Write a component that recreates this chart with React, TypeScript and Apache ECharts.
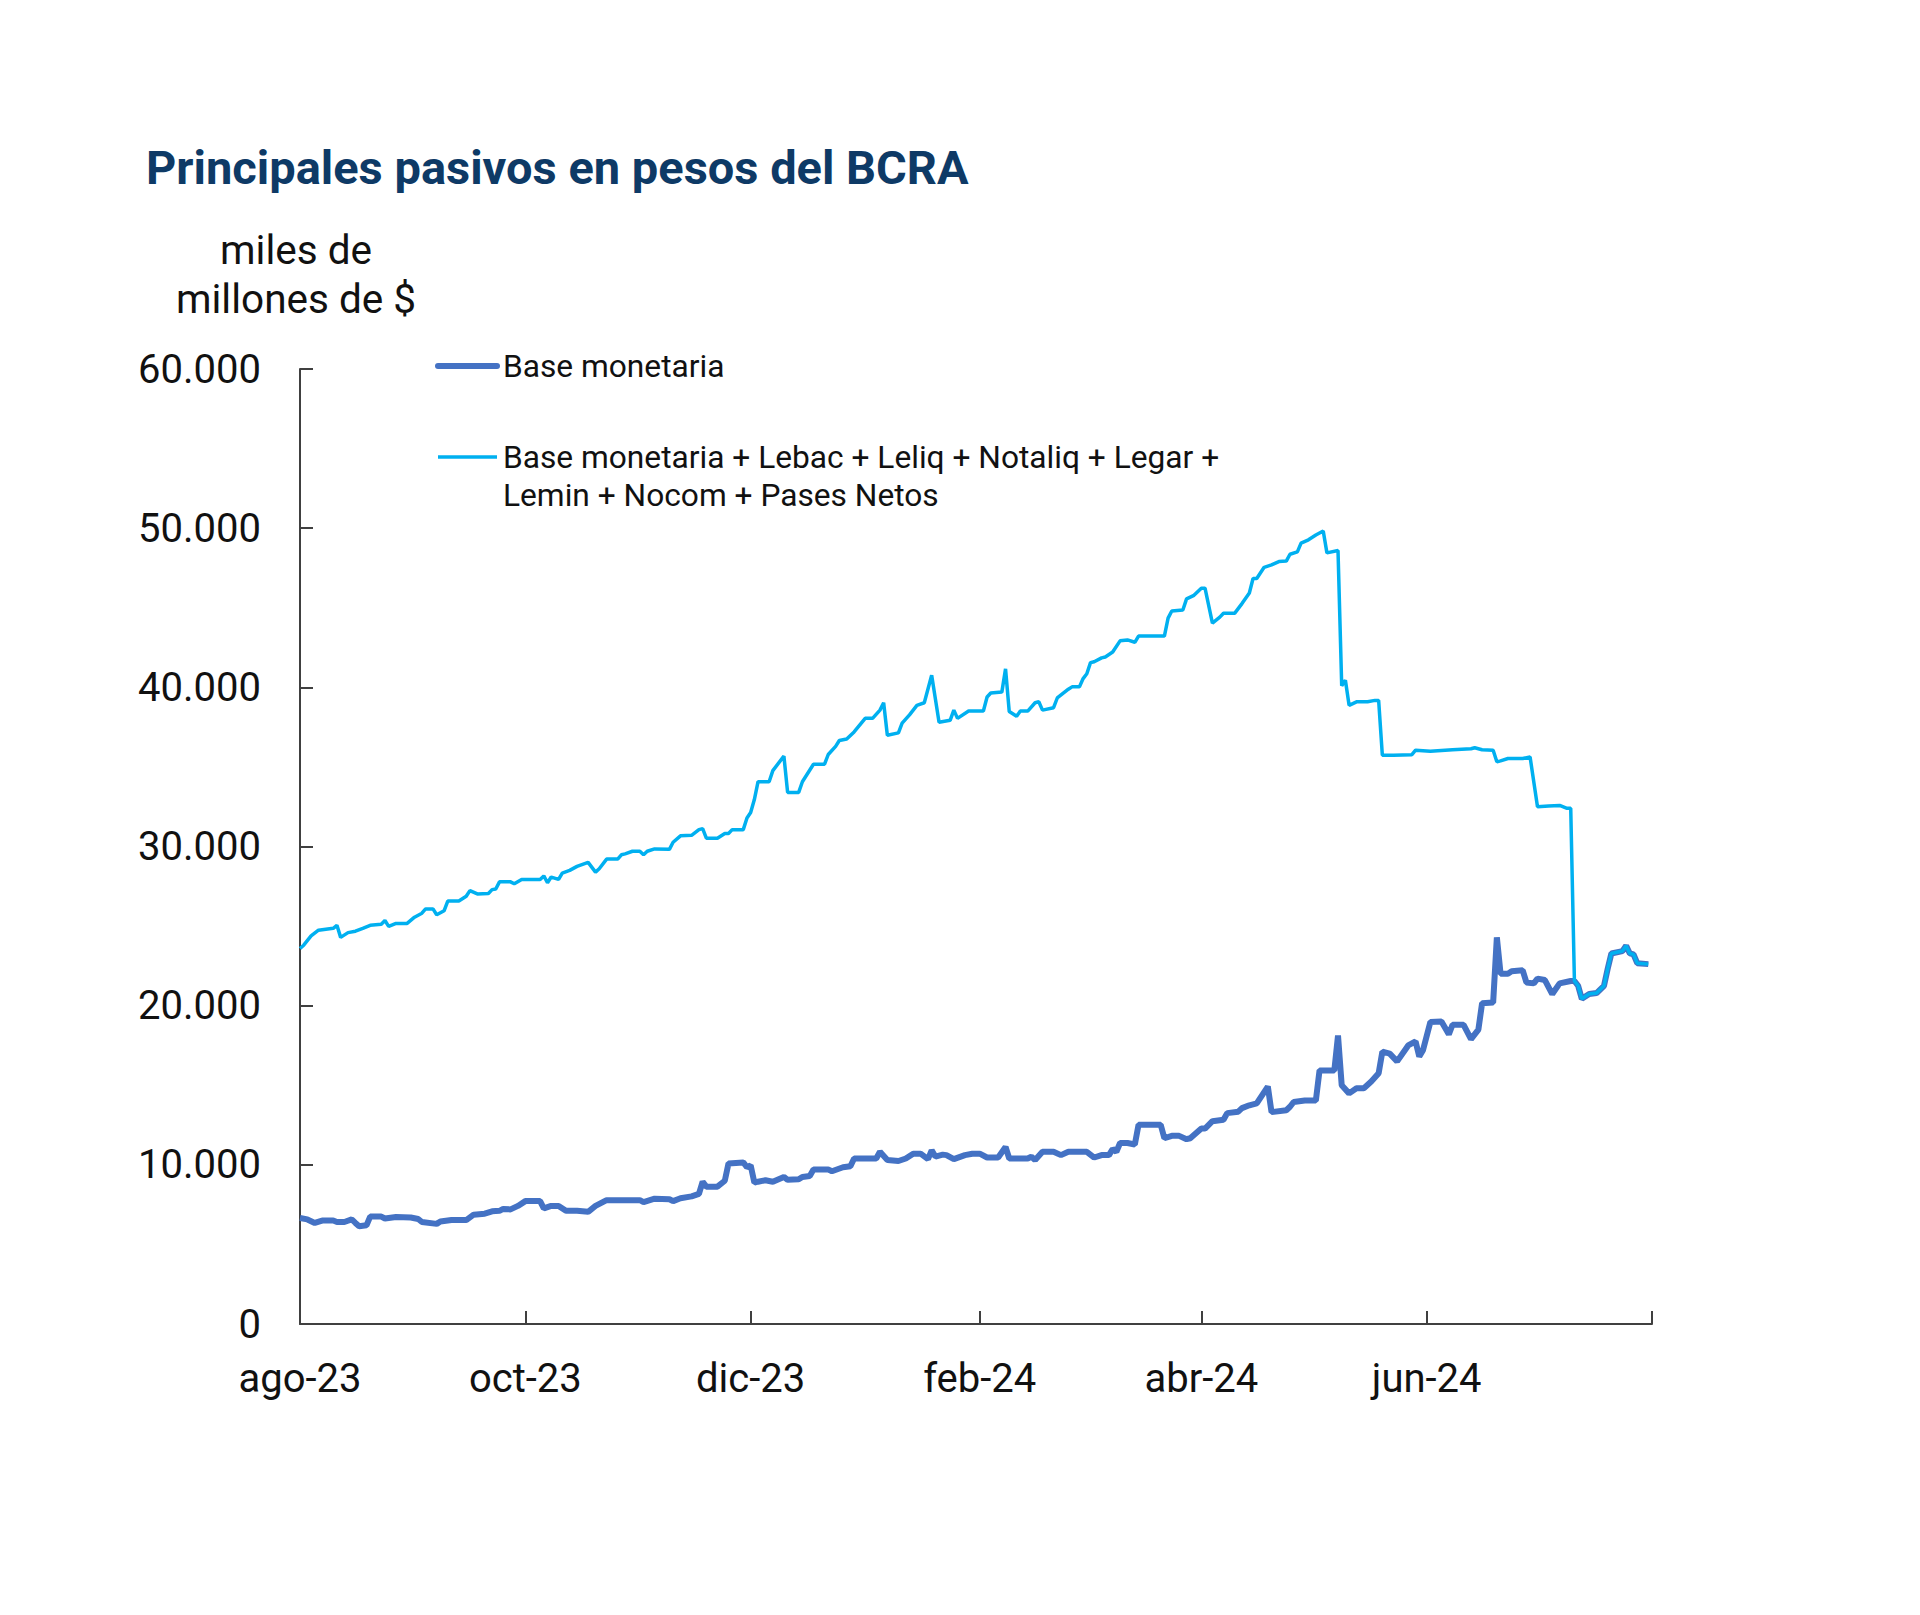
import React, { useEffect, useRef } from "react";
import * as echarts from "echarts";

const TITLE = "Principales pasivos en pesos del BCRA";
const Y_AXIS_NAME = "miles de\nmillones de $";
const NAME_BASE = "Base monetaria";
const NAME_AMPLIA = "Base monetaria + Lebac + Leliq + Notaliq + Legar +\nLemin + Nocom + Pases Netos";

const X_MIN = "2023-08-01";
const X_MAX = "2024-08-01";
const X_TICK_DATES = ["2023-08-01", "2023-10-01", "2023-12-01", "2024-02-01", "2024-04-01", "2024-06-01", "2024-08-01"];
const X_LABEL_DATES = ["2023-08-01", "2023-10-01", "2023-12-01", "2024-02-01", "2024-04-01", "2024-06-01"];
const X_LABELS = ["ago-23", "oct-23", "dic-23", "feb-24", "abr-24", "jun-24"];
const Y_TICKS = [0, 10000, 20000, 30000, 40000, 50000, 60000];

// Base monetaria
const baseDates = [
  "2023-08-01", "2023-08-03", "2023-08-05", "2023-08-07", "2023-08-10", "2023-08-11", "2023-08-13", "2023-08-15",
  "2023-08-16", "2023-08-17", "2023-08-19", "2023-08-20", "2023-08-23", "2023-08-24", "2023-08-27", "2023-08-31",
  "2023-09-02", "2023-09-03", "2023-09-07", "2023-09-08", "2023-09-11", "2023-09-15", "2023-09-17", "2023-09-20",
  "2023-09-22", "2023-09-24", "2023-09-25", "2023-09-27", "2023-09-29", "2023-10-01", "2023-10-05", "2023-10-06",
  "2023-10-08", "2023-10-10", "2023-10-12", "2023-10-15", "2023-10-18", "2023-10-20", "2023-10-23", "2023-11-01",
  "2023-11-02", "2023-11-05", "2023-11-09", "2023-11-10", "2023-11-12", "2023-11-15", "2023-11-17", "2023-11-18",
  "2023-11-19", "2023-11-22", "2023-11-24", "2023-11-25", "2023-11-29", "2023-11-30", "2023-12-01", "2023-12-02",
  "2023-12-03", "2023-12-05", "2023-12-07", "2023-12-10", "2023-12-11", "2023-12-14", "2023-12-15", "2023-12-17",
  "2023-12-18", "2023-12-22", "2023-12-23", "2023-12-26", "2023-12-28", "2023-12-29", "2024-01-04", "2024-01-05",
  "2024-01-07", "2024-01-10", "2024-01-12", "2024-01-14", "2024-01-16", "2024-01-18", "2024-01-19", "2024-01-20",
  "2024-01-22", "2024-01-23", "2024-01-25", "2024-01-28", "2024-01-30", "2024-02-01", "2024-02-03", "2024-02-06",
  "2024-02-08", "2024-02-09", "2024-02-14", "2024-02-15", "2024-02-16", "2024-02-18", "2024-02-21", "2024-02-23",
  "2024-02-25", "2024-03-01", "2024-03-03", "2024-03-05", "2024-03-07", "2024-03-08", "2024-03-09", "2024-03-10",
  "2024-03-12", "2024-03-14", "2024-03-15", "2024-03-21", "2024-03-22", "2024-03-24", "2024-03-26", "2024-03-28",
  "2024-03-29", "2024-04-01", "2024-04-02", "2024-04-04", "2024-04-07", "2024-04-08", "2024-04-11", "2024-04-12",
  "2024-04-14", "2024-04-16", "2024-04-19", "2024-04-20", "2024-04-24", "2024-04-25", "2024-04-26", "2024-04-29",
  "2024-05-02", "2024-05-03", "2024-05-07", "2024-05-08", "2024-05-09", "2024-05-11", "2024-05-13", "2024-05-15",
  "2024-05-17", "2024-05-19", "2024-05-20", "2024-05-22", "2024-05-24", "2024-05-27", "2024-05-29", "2024-05-30",
  "2024-05-31", "2024-06-02", "2024-06-05", "2024-06-07", "2024-06-08", "2024-06-11", "2024-06-13", "2024-06-15",
  "2024-06-16", "2024-06-19", "2024-06-20", "2024-06-21", "2024-06-23", "2024-06-24", "2024-06-27", "2024-06-28",
  "2024-06-30", "2024-07-01", "2024-07-03", "2024-07-05", "2024-07-07", "2024-07-10", "2024-07-11", "2024-07-12",
  "2024-07-13", "2024-07-15", "2024-07-17", "2024-07-19", "2024-07-20", "2024-07-21", "2024-07-24", "2024-07-25",
  "2024-07-26", "2024-07-27", "2024-07-28", "2024-07-31"
];
const baseValues = [
  6660, 6570, 6350, 6500, 6500, 6410, 6410, 6570,
  6350, 6140, 6200, 6750, 6750, 6630, 6720, 6690,
  6600, 6410, 6290, 6440, 6530, 6530, 6870, 6930,
  7080, 7110, 7230, 7200, 7420, 7720, 7720, 7260,
  7420, 7420, 7110, 7110, 7050, 7420, 7780, 7780,
  7660, 7870, 7840, 7720, 7900, 8020, 8180, 8940,
  8630, 8630, 9000, 10090, 10150, 9850, 9970, 8880,
  8940, 9030, 8940, 9240, 9060, 9090, 9240, 9300,
  9700, 9700, 9600, 9850, 9910, 10400, 10400, 10820,
  10300, 10240, 10400, 10700, 10700, 10360, 10910, 10520,
  10640, 10610, 10360, 10610, 10700, 10700, 10460, 10460,
  11120, 10400, 10400, 10520, 10300, 10820, 10820, 10610,
  10820, 10820, 10460, 10610, 10610, 11000, 10820, 11370,
  11370, 11280, 12520, 12520, 11670, 11820, 11820, 11610,
  11670, 12280, 12280, 12740, 12830, 13250, 13340, 13560,
  13740, 13860, 14920, 13310, 13430, 13650, 13950, 14040,
  14040, 15930, 15930, 18120, 15000, 14490, 14810, 14810,
  15230, 15750, 17110, 16990, 16500, 17500, 17750, 16800,
  17200, 18970, 19000, 18200, 18800, 18800, 17900, 18500,
  20150, 20200, 24290, 22010, 22010, 22160, 22220, 21460,
  21400, 21700, 21610, 20730, 21400, 21550, 21550, 21250,
  20430, 20730, 20790, 21250, 22310, 23280, 23430, 23770,
  23280, 23220, 22670, 22610
];

// Base monetaria + Lebac + Leliq + Notaliq + Legar + Lemin + Nocom + Pases Netos
const ampliaDates = [
  "2023-08-01", "2023-08-02", "2023-08-04", "2023-08-06", "2023-08-10", "2023-08-11", "2023-08-12", "2023-08-14",
  "2023-08-16", "2023-08-18", "2023-08-20", "2023-08-23", "2023-08-24", "2023-08-25", "2023-08-27", "2023-08-30",
  "2023-09-01", "2023-09-03", "2023-09-04", "2023-09-06", "2023-09-07", "2023-09-09", "2023-09-10", "2023-09-13",
  "2023-09-15", "2023-09-16", "2023-09-18", "2023-09-21", "2023-09-22", "2023-09-23", "2023-09-24", "2023-09-27",
  "2023-09-28", "2023-09-30", "2023-10-05", "2023-10-06", "2023-10-07", "2023-10-08", "2023-10-10", "2023-10-11",
  "2023-10-13", "2023-10-15", "2023-10-18", "2023-10-20", "2023-10-21", "2023-10-23", "2023-10-26", "2023-10-27",
  "2023-10-28", "2023-10-30", "2023-11-01", "2023-11-02", "2023-11-03", "2023-11-05", "2023-11-09", "2023-11-10",
  "2023-11-12", "2023-11-15", "2023-11-17", "2023-11-18", "2023-11-19", "2023-11-22", "2023-11-24", "2023-11-25",
  "2023-11-26", "2023-11-29", "2023-11-30", "2023-12-01", "2023-12-02", "2023-12-03", "2023-12-06", "2023-12-07",
  "2023-12-10", "2023-12-11", "2023-12-14", "2023-12-15", "2023-12-18", "2023-12-21", "2023-12-22", "2023-12-24",
  "2023-12-25", "2023-12-27", "2023-12-29", "2024-01-01", "2024-01-03", "2024-01-05", "2024-01-06", "2024-01-07",
  "2024-01-10", "2024-01-11", "2024-01-13", "2024-01-15", "2024-01-17", "2024-01-19", "2024-01-21", "2024-01-24",
  "2024-01-25", "2024-01-26", "2024-01-29", "2024-02-02", "2024-02-03", "2024-02-04", "2024-02-07", "2024-02-08",
  "2024-02-09", "2024-02-11", "2024-02-12", "2024-02-14", "2024-02-16", "2024-02-17", "2024-02-18", "2024-02-21",
  "2024-02-22", "2024-02-25", "2024-02-26", "2024-02-28", "2024-02-29", "2024-03-01", "2024-03-02", "2024-03-03",
  "2024-03-05", "2024-03-06", "2024-03-08", "2024-03-10", "2024-03-12", "2024-03-14", "2024-03-15", "2024-03-22",
  "2024-03-23", "2024-03-24", "2024-03-27", "2024-03-28", "2024-03-30", "2024-04-01", "2024-04-02", "2024-04-04",
  "2024-04-06", "2024-04-07", "2024-04-10", "2024-04-12", "2024-04-14", "2024-04-15", "2024-04-16", "2024-04-18",
  "2024-04-20", "2024-04-22", "2024-04-24", "2024-04-25", "2024-04-27", "2024-04-28", "2024-04-30", "2024-05-02",
  "2024-05-04", "2024-05-05", "2024-05-08", "2024-05-09", "2024-05-10", "2024-05-11", "2024-05-13", "2024-05-16",
  "2024-05-18", "2024-05-19", "2024-05-20", "2024-05-23", "2024-05-28", "2024-05-29", "2024-06-02", "2024-06-08",
  "2024-06-13", "2024-06-14", "2024-06-16", "2024-06-19", "2024-06-20", "2024-06-21", "2024-06-23", "2024-06-27",
  "2024-06-29", "2024-07-01", "2024-07-04", "2024-07-07", "2024-07-09", "2024-07-10", "2024-07-11", "2024-07-12",
  "2024-07-13", "2024-07-15", "2024-07-17", "2024-07-19", "2024-07-20", "2024-07-21", "2024-07-24", "2024-07-25",
  "2024-07-26", "2024-07-27", "2024-07-28", "2024-07-31"
];
const ampliaValues = [
  23590, 23800, 24380, 24740, 24860, 25050, 24290, 24590,
  24680, 24860, 25050, 25110, 25350, 24980, 25170, 25170,
  25560, 25810, 26080, 26080, 25710, 25960, 26570, 26570,
  26870, 27230, 27020, 27050, 27290, 27330, 27780, 27780,
  27660, 27930, 27930, 28150, 27720, 28080, 27930, 28330,
  28500, 28750, 29000, 28390, 28600, 29210, 29210, 29480,
  29540, 29700, 29700, 29480, 29700, 29850, 29820, 30270,
  30670, 30700, 31060, 31120, 30520, 30520, 30820, 30820,
  31060, 31060, 31790, 32130, 32950, 34070, 34070, 34770,
  35680, 33400, 33400, 34070, 35170, 35170, 35780, 36290,
  36660, 36750, 37200, 38050, 38050, 38570, 39030, 36990,
  37140, 37750, 38270, 38870, 39030, 40760, 37810, 37930,
  38570, 38050, 38510, 38510, 39390, 39640, 39700, 41160,
  38480, 38180, 38510, 38510, 39030, 39090, 38570, 38720,
  39330, 39880, 40030, 40030, 40550, 40850, 41550, 41610,
  41850, 41910, 42220, 42920, 42980, 42830, 43220, 43220,
  44350, 44800, 44860, 45560, 45780, 46230, 46230, 44040,
  44410, 44650, 44650, 45260, 45930, 46840, 46840, 47540,
  47690, 47900, 47930, 48360, 48510, 49060, 49270, 49570,
  49820, 48450, 48600, 40100, 40450, 38870, 39090, 39090,
  39180, 39180, 35740, 35740, 35770, 36050, 35990, 36080,
  36140, 36200, 36080, 36050, 35320, 35380, 35530, 35530,
  35620, 32490, 32550, 32580, 32400, 32400, 21550, 21250,
  20430, 20730, 20790, 21250, 22310, 23280, 23430, 23770,
  23280, 23220, 22670, 22610
];

const COLOR_BASE = "#4472C4";
const COLOR_AMPLIA = "#00B0F0";
const AXIS_COLOR = "#404040";
const TEXT_COLOR = "#111111";
const FONT = "Roboto";

function toStamp(d: string): number {
  return Date.parse(d + "T00:00:00Z");
}

function fmtThousands(v: number): string {
  return String(v).replace(/\B(?=(\d{3})+(?!\d))/g, ".");
}

export default function App() {
  const ref = useRef<HTMLDivElement>(null);

  useEffect(() => {
    document.body.style.margin = "0";
    if (!ref.current) return;
    const chart = echarts.init(ref.current, undefined, { renderer: "svg" });

    const tickStamps = X_TICK_DATES.map(toStamp);
    const labelStamps = X_LABEL_DATES.map(toStamp);

    const option: any = {
      animation: false,
      backgroundColor: "#ffffff",
      title: {
        text: TITLE,
        left: 141,
        top: 139,
        textStyle: { fontFamily: FONT, fontWeight: "bold", fontSize: 47, color: "#0E3A66" },
      },
      grid: { left: 300, top: 369, width: 1352, height: 955, containLabel: false },
      xAxis: {
        type: "value",
        min: toStamp(X_MIN),
        max: toStamp(X_MAX),
        splitLine: { show: false },
        axisLine: { show: true, lineStyle: { color: AXIS_COLOR, width: 2 } },
        axisTick: {
          show: true,
          inside: true,
          length: 13,
          customValues: tickStamps,
          lineStyle: { color: AXIS_COLOR, width: 2 },
        },
        axisLabel: {
          customValues: labelStamps,
          margin: 34,
          fontFamily: FONT,
          fontSize: 40,
          color: TEXT_COLOR,
          formatter: (value: number) => {
            const i = labelStamps.indexOf(value);
            return i >= 0 ? X_LABELS[i] : "";
          },
        },
      },
      yAxis: {
        type: "value",
        min: Y_TICKS[0],
        max: Y_TICKS[Y_TICKS.length - 1],
        interval: 10000,
        name: Y_AXIS_NAME,
        nameLocation: "end",
        nameGap: 46,
        nameTextStyle: {
          fontFamily: FONT,
          fontSize: 40.5,
          lineHeight: 49,
          color: TEXT_COLOR,
          align: "center",
          padding: [0, 8, 0, 0],
        },
        splitLine: { show: false },
        axisLine: { show: true, lineStyle: { color: AXIS_COLOR, width: 2 } },
        axisTick: { show: true, inside: true, length: 13, lineStyle: { color: AXIS_COLOR, width: 2 } },
        axisLabel: {
          margin: 39,
          fontFamily: FONT,
          fontSize: 40,
          color: TEXT_COLOR,
          formatter: (v: number) => fmtThousands(v),
        },
      },
      series: [
        {
          name: NAME_BASE,
          type: "line",
          data: baseDates.map((d, i) => [toStamp(d), baseValues[i]]),
          showSymbol: false,
          symbol: "none",
          lineStyle: { color: COLOR_BASE, width: 6 },
          itemStyle: { color: COLOR_BASE },
          emphasis: { disabled: true },
          z: 2,
        },
        {
          name: NAME_AMPLIA,
          type: "line",
          data: ampliaDates.map((d, i) => [toStamp(d), ampliaValues[i]]),
          showSymbol: false,
          symbol: "none",
          lineStyle: { color: COLOR_AMPLIA, width: 3.5 },
          itemStyle: { color: COLOR_AMPLIA },
          emphasis: { disabled: true },
          z: 3,
        },
      ],
      graphic: [
        {
          type: "line",
          shape: { x1: 438, y1: 366, x2: 497, y2: 366 },
          style: { stroke: COLOR_BASE, lineWidth: 6, lineCap: "round" },
        },
        {
          type: "text",
          x: 503,
          y: 366,
          style: {
            text: NAME_BASE,
            fontFamily: FONT,
            fontSize: 31.7,
            fill: TEXT_COLOR,
            textVerticalAlign: "middle",
            verticalAlign: "middle",
          },
        },
        {
          type: "line",
          shape: { x1: 438, y1: 457, x2: 497, y2: 457 },
          style: { stroke: COLOR_AMPLIA, lineWidth: 3.5 },
        },
        {
          type: "text",
          x: 503,
          y: 438,
          style: {
            text: NAME_AMPLIA,
            fontFamily: FONT,
            fontSize: 31.7,
            lineHeight: 38,
            fill: TEXT_COLOR,
            textVerticalAlign: "top",
            verticalAlign: "top",
          },
        },
      ],
    };

    chart.setOption(option);
    return () => chart.dispose();
  }, []);

  return <div ref={ref} style={{ width: 1920, height: 1615 }} />;
}
